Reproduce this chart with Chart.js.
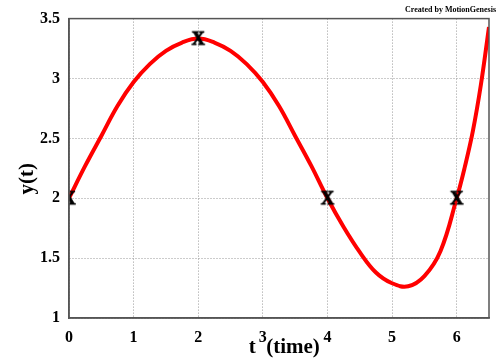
<!DOCTYPE html>
<html>
<head>
<meta charset="utf-8">
<script src="https://cdn.jsdelivr.net/npm/chart.js@4/dist/chart.umd.min.js"></script>
<style>
  body { margin: 0; background: #fff; }
  #wrap { width: 499px; height: 360px; }
</style>
</head>
<body>
<div id="wrap"><canvas id="yChart"></canvas></div>
<script>
// y(t)
const tValues = [0, 0.25, 0.5, 0.75, 1, 1.25, 1.5, 1.75, 2, 2.25, 2.5, 2.75, 3, 3.25, 3.5, 3.75,
                 4, 4.25, 4.5, 4.75, 5, 5.25, 5.5, 5.75, 6, 6.125, 6.25, 6.375, 6.5];
const yValues = [2, 2.27, 2.52, 2.77, 2.97, 3.12, 3.23, 3.30, 3.333, 3.30, 3.23, 3.12, 2.97, 2.77, 2.52, 2.27,
                 2, 1.76, 1.55, 1.38, 1.29, 1.265, 1.35, 1.56, 2, 2.26, 2.56, 2.95, 3.43];

// the X markers
const markT = [0, 2, 4, 6];
const markY = [2, 3.333, 2, 2];

const xTicks = [0, 1, 2, 3, 4, 5, 6];
const yTicks = [1, 1.5, 2, 2.5, 3, 3.5];

const serif = "'Liberation Serif', 'DejaVu Serif', serif";

// bold serif "X" used as point style
const xMark = document.createElement('canvas');
xMark.width = 18;
xMark.height = 18;
const mctx = xMark.getContext('2d');
mctx.font = "bold 18px " + serif;
mctx.textAlign = 'center';
mctx.textBaseline = 'middle';
mctx.fillStyle = '#000';
mctx.strokeStyle = '#000';
mctx.lineWidth = 1;
mctx.fillText('X', 9, 10);
mctx.strokeText('X', 9, 10);

// box around the plot area (top and right edges)
const frame = {
  id: 'frame',
  afterDatasetsDraw(chart) {
    const a = chart.chartArea;
    const ctx = chart.ctx;
    ctx.save();
    ctx.strokeStyle = '#555';
    ctx.lineWidth = 1.5;
    ctx.strokeRect(a.left, a.top, a.right - a.left, a.bottom - a.top);
    ctx.restore();
  }
};

const gridOpts = { color: '#999', lineWidth: 1, drawTicks: false };
const borderOpts = { display: true, color: '#555', width: 1.5, dash: [1, 2] };

new Chart(document.getElementById('yChart'), {
  type: 'line',
  data: {
    datasets: [
      {
        data: markT.map((t, i) => ({ x: t, y: markY[i] })),
        showLine: false,
        pointStyle: xMark,
        pointRadius: 9
      },
      {
        data: tValues.map((t, i) => ({ x: t, y: yValues[i] })),
        borderColor: '#ff0000',
        borderWidth: 4,
        pointRadius: 0,
        tension: 0.4,
        fill: false
      }
    ]
  },
  options: {
    responsive: true,
    maintainAspectRatio: false,
    animation: false,
    layout: { padding: { left: 0, right: 3, top: 0, bottom: 0 } },
    plugins: {
      legend: { display: false },
      tooltip: { enabled: false },
      title: {
        display: true,
        text: 'Created by MotionGenesis',
        align: 'end',
        color: '#000',
        font: { family: serif, size: 8, weight: 'bold' },
        padding: { top: 4, bottom: 3.4 }
      }
    },
    scales: {
      x: {
        type: 'linear',
        min: 0,
        max: 6.5,
        afterBuildTicks: s => { s.ticks = xTicks.map(v => ({ value: v })); },
        afterFit: s => { s.height = 42; },
        grid: gridOpts,
        border: borderOpts,
        ticks: { color: '#000', padding: 10, font: { family: serif, size: 16, weight: 'bold' },
                 callback: v => String(v) },
        title: {
          display: true,
          text: '  t  (time)',
          color: '#000',
          font: { family: serif, size: 21, weight: 'bold' },
          padding: { top: 0, bottom: 0 }
        }
      },
      y: {
        min: 1,
        max: 3.5,
        afterBuildTicks: s => { s.ticks = yTicks.map(v => ({ value: v })); },
        afterFit: s => { s.width = 69; },
        grid: gridOpts,
        border: borderOpts,
        ticks: { color: '#000', padding: 9, font: { family: serif, size: 16, weight: 'bold' },
                 callback: v => String(v) },
        title: {
          display: true,
          text: 'y(t)    ',
          color: '#000',
          font: { family: serif, size: 21, weight: 'bold' },
          padding: { top: 15, bottom: 0 }
        }
      }
    }
  },
  plugins: [frame]
});
</script>
</body>
</html>
